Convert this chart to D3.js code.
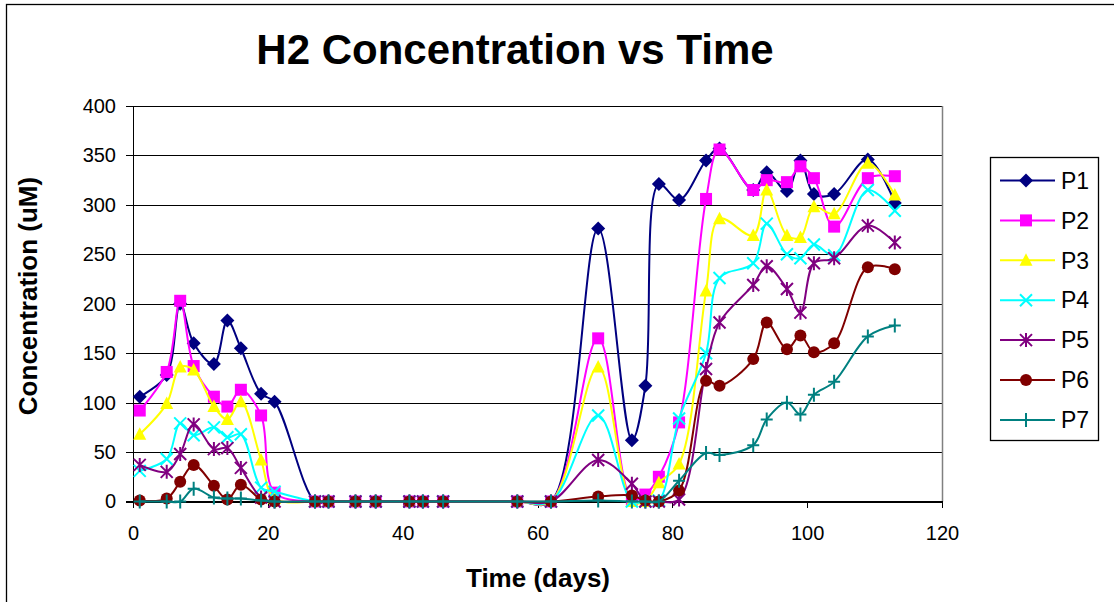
<!DOCTYPE html>
<meta charset="utf-8">
<style>

body {
  margin: 0;
  background: #fff;
}

svg {
  font-family: Arial, "Liberation Sans", sans-serif;
  display: block;
}

.title {
  font-size: 42px;
  font-weight: bold;
  text-anchor: middle;
}

.axis-label {
  font-size: 26px;
  font-weight: bold;
  text-anchor: middle;
}

.grid line {
  stroke: #000;
  stroke-width: 1px;
  shape-rendering: crispEdges;
}

.axis text {
  font-size: 20px;
  fill: #000;
}

.axis line, .axis path {
  stroke: #000;
  shape-rendering: crispEdges;
}

.series path.line {
  fill: none;
  stroke-width: 2px;
}

.legend text {
  font-size: 23px;
}

</style>
<svg></svg>
<script src="https://d3js.org/d3.v7.min.js"></script>
<script>

var days = [1, 5, 7, 9, 12, 14, 16, 19, 21, 27, 29, 33, 36, 41, 43, 46, 57, 62,
  69, 74, 76, 78, 81, 85, 87, 92, 94, 97, 99, 101, 104, 109, 113];

var p1 = [106, 128, 200, 160, 139, 183, 155, 109, 101, 0, 0, 0, 0, 0, 0, 0, 0, 0,
  276, 62, 117, 321, 305, 345, 357, 315, 333, 314, 345, 311, 311, 346, 302];
var p2 = [92, 131, 203, 137, 106, 96, 113, 87, 9, 0, 0, 0, 0, 0, 0, 0, 0, 0,
  165, 2, 7, 25, 80, 306, 356, 315, 325, 323, 339, 327, 278, 327, 329];
var p3 = [68, 99, 136, 133, 96, 83, 101, 42, 3, 0, 0, 0, 0, 0, 0, 0, 0, 0,
  136, 0, 0, 19, 38, 213, 286, 269, 315, 269, 267, 298, 291, 342, 310];
var p4 = [31, 43, 79, 67, 75, 65, 68, 14, 10, 0, 0, 0, 0, 0, 0, 0, 0, 0,
  87, 0, 0, 1, 84, 150, 226, 241, 281, 250, 246, 260, 249, 315, 294];
var p5 = [37, 30, 48, 78, 53, 54, 34, 4, 0, 0, 0, 0, 0, 0, 0, 0, 0, 0,
  42, 18, 0, 0, 2, 134, 181, 219, 238, 215, 191, 241, 246, 279, 262];
var p6 = [1, 3, 20, 37, 16, 2, 17, 2, 0, 0, 0, 0, 0, 0, 0, 0, 0, 0,
  5, 6, 1, 0, 11, 122, 117, 144, 181, 154, 168, 151, 160, 237, 235];
var p7 = [0, 0, 0, 13, 4, 3, 3, 1, 0, 0, 0, 0, 0, 0, 0, 0, 0, 0,
  1, 0, 0, 0, 21, 49, 47, 57, 83, 100, 88, 108, 121, 167, 178];

var seriesNames = ['P1', 'P2', 'P3', 'P4', 'P5', 'P6', 'P7'];
var seriesColors = ['#000080', '#ff00ff', '#ffff00', '#00ffff', '#800080', '#800000', '#008080'];
var seriesMarkers = ['diamond', 'square', 'triangle', 'x', 'star', 'circle', 'plus'];
var seriesValues = [p1, p2, p3, p4, p5, p6, p7];

var xTicks = [0, 20, 40, 60, 80, 100, 120];
var yTicks = [0, 50, 100, 150, 200, 250, 300, 350, 400];

var W = 1114, H = 602;
var plot = { left: 133, right: 942, top: 106, bottom: 501.5 };

var x = d3.scaleLinear().domain([0, 120]).range([plot.left, plot.right]);
var y = d3.scaleLinear().domain([0, 400]).range([plot.bottom, plot.top]);

var svg = d3.select('svg')
  .attr('width', W)
  .attr('height', H);

// outer chart frame (runs off the picture on the right and bottom)
svg.append('rect')
  .attr('x', 6.5)
  .attr('y', 4.5)
  .attr('width', W + 20)
  .attr('height', H + 20)
  .attr('fill', '#fff')
  .attr('stroke', '#000')
  .attr('stroke-width', 1.3);

svg.append('text')
  .attr('class', 'title')
  .attr('x', 515)
  .attr('y', 64)
  .text('H2 Concentration vs Time');

// gridlines
svg.append('g')
  .attr('class', 'grid')
  .selectAll('line')
  .data(yTicks.slice(1))
  .enter().append('line')
  .attr('x1', plot.left)
  .attr('x2', plot.right)
  .attr('y1', function (d) { return Math.round(y(d)) + 0.5; })
  .attr('y2', function (d) { return Math.round(y(d)) + 0.5; });

// right border of plot area
svg.append('line')
  .attr('x1', plot.right + 0.5)
  .attr('x2', plot.right + 0.5)
  .attr('y1', plot.top)
  .attr('y2', plot.bottom)
  .attr('stroke', '#808080')
  .attr('stroke-width', 1.5);

var xAxis = d3.axisBottom(x).tickValues(xTicks).tickSize(6).tickPadding(18);
var yAxis = d3.axisLeft(y).tickValues(yTicks).tickSize(7).tickPadding(10);

var gx = svg.append('g')
  .attr('class', 'x axis')
  .attr('transform', 'translate(0,' + plot.bottom + ')')
  .call(xAxis);
gx.select('.domain').attr('stroke', '#666').attr('stroke-width', 1.5);
gx.selectAll('.tick line').attr('stroke', '#666');

var gy = svg.append('g')
  .attr('class', 'y axis')
  .attr('transform', 'translate(' + plot.left + ',0)')
  .call(yAxis);
gy.select('.domain').attr('stroke-width', 1.5);

svg.append('text')
  .attr('class', 'axis-label')
  .attr('x', 538)
  .attr('y', 587)
  .text('Time (days)');

svg.append('text')
  .attr('class', 'axis-label')
  .attr('transform', 'translate(37,296) rotate(-90)')
  .text('Concentration (uM)');

function drawMarker(g, type, color) {
  if (type === 'diamond') {
    g.append('path').attr('d', 'M0,-7L7,0L0,7L-7,0Z').attr('fill', color);
  } else if (type === 'square') {
    g.append('rect').attr('x', -6).attr('y', -6).attr('width', 12).attr('height', 12).attr('fill', color);
  } else if (type === 'triangle') {
    g.append('path').attr('d', 'M0,-7L6.5,5.5L-6.5,5.5Z').attr('fill', color);
  } else if (type === 'circle') {
    g.append('circle').attr('r', 6).attr('fill', color);
  } else {
    var d = '';
    if (type === 'x' || type === 'star') d += 'M-6,-6L6,6M-6,6L6,-6';
    if (type === 'star') d += 'M0,-7L0,7';
    if (type === 'plus') d += 'M-6,0L6,0M0,-7L0,7';
    g.append('path').attr('d', d).attr('fill', 'none').attr('stroke', color).attr('stroke-width', 2);
  }
}

var line = d3.line()
  .x(function (d) { return x(d[0]); })
  .y(function (d) { return y(d[1]); })
  .curve(d3.curveCatmullRom.alpha(0.5));

seriesNames.forEach(function (name, i) {
  var pts = days.map(function (d, j) { return [d, seriesValues[i][j]]; });
  var g = svg.append('g').attr('class', 'series');
  g.append('path')
    .attr('class', 'line')
    .attr('d', line(pts))
    .attr('stroke', seriesColors[i]);
  g.selectAll('g.marker')
    .data(pts)
    .enter().append('g')
    .attr('class', 'marker')
    .attr('transform', function (d) { return 'translate(' + x(d[0]) + ',' + y(d[1]) + ')'; })
    .each(function () { drawMarker(d3.select(this), seriesMarkers[i], seriesColors[i]); });
});

// legend
var legend = svg.append('g').attr('class', 'legend');
legend.append('rect')
  .attr('x', 990.5)
  .attr('y', 157.5)
  .attr('width', 108)
  .attr('height', 283)
  .attr('fill', '#fff')
  .attr('stroke', '#000')
  .attr('stroke-width', 1.3);

var item = legend.selectAll('g.item')
  .data(seriesNames)
  .enter().append('g')
  .attr('class', 'item')
  .attr('transform', function (d, i) { return 'translate(0,' + (180.5 + i * 39.9) + ')'; });

item.append('line')
  .attr('x1', 1000)
  .attr('x2', 1055)
  .attr('stroke', function (d, i) { return seriesColors[i]; })
  .attr('stroke-width', 2);

item.append('g')
  .attr('transform', 'translate(1026,0)')
  .each(function (d, i) { drawMarker(d3.select(this), seriesMarkers[i], seriesColors[i]); });

item.append('text')
  .attr('x', 1061)
  .attr('dy', '0.36em')
  .text(function (d) { return d; });

</script>
